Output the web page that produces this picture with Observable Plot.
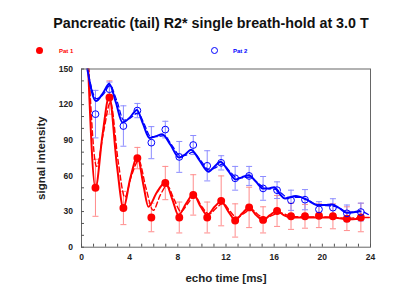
<!DOCTYPE html>
<html>
<head>
<meta charset="utf-8">
<script src="https://cdn.jsdelivr.net/npm/d3@7"></script>
<script src="https://cdn.jsdelivr.net/npm/@observablehq/plot@0.6"></script>
<style>
  html, body { margin: 0; padding: 0; background: #fff; }
  #wrap { width: 400px; height: 308px; position: relative; font-family: "Liberation Sans", Arial, sans-serif; }
  #title { position: absolute; left: 11px; width: 400px; top: 16px; text-align: center; font-weight: bold; font-size: 14.3px; line-height: 14px; color: #111; white-space: nowrap; }
  .lg-dot { position: absolute; box-sizing: border-box; width: 7px; height: 7px; border-radius: 50%; }
  .lg-txt { position: absolute; font-weight: bold; font-size: 6px; line-height: 6px; white-space: nowrap; }
  #chart { position: absolute; left: 0; top: 60px; }
</style>
</head>
<body>
<div id="wrap">
  <div id="title">Pancreatic (tail) R2* single breath-hold at 3.0 T</div>
  <span class="lg-dot" style="left:35.5px;top:47.2px;background:#ff0000"></span>
  <span class="lg-txt" style="left:59px;top:47.7px;color:#ff0000">Pat 1</span>
  <span class="lg-dot" style="left:210.5px;top:47.2px;border:1.2px solid #0000ff"></span>
  <span class="lg-txt" style="left:233px;top:47.7px;color:#0000ff">Pat 2</span>
  <div id="chart"></div>
</div>
<script>
// Echo times [ms]
const echoTimes = [1.16, 2.32, 3.48, 4.64, 5.80, 6.96, 8.12, 9.28, 10.44, 11.60,
                   12.76, 13.92, 15.08, 16.24, 17.40, 18.56, 19.72, 20.88, 22.04, 23.20];
// Pat 1 measured signal and SD
const pat1Values = [50, 126, 33, 75, 25, 54, 25, 44, 25, 39, 22.5, 33.5, 23, 30.5, 26, 26, 26.5, 26, 24, 25];
const pat1Errors = [24, 14, 14, 9, 12, 14, 13, 17, 13, 21, 14, 17, 11, 13, 11, 10, 10, 10.5, 10, 12];
// Pat 2 measured signal and SD
const pat2Values = [112, 133, 102, 115, 88, 99, 76, 86, 68.5, 71, 58, 60, 49.5, 48, 39.5, 40, 31.8, 33.3, 28.5, 29.6];
const pat2Errors = [20, 6, 17, 6, 13.5, 7, 13, 8, 12.7, 6, 10, 8, 10, 7, 8.5, 8.5, 6.5, 7.5, 7, 7.5];

// Fit curves (time, signal)
const fit1SolidT = [0.55, 1.16, 1.75, 2.30, 2.95, 3.48, 4.05, 4.65, 5.15, 5.55, 6.25, 6.96, 7.55, 8.05, 8.70, 9.30, 9.90, 10.45, 11.05, 11.60, 12.20, 12.76, 13.35, 13.92, 14.50, 15.08, 15.65, 16.24, 16.80, 17.40, 18.56, 19.72, 20.88, 22.04, 23.15];
const fit1Solid  = [152, 50, 95, 127, 68, 33, 58, 76, 52, 34, 46, 54.5, 40, 27, 37, 44.5, 34, 27, 34, 38.5, 30, 23, 28.5, 33.5, 27, 23, 27, 30.5, 27, 25, 25, 25, 25, 23.5, 24];
const fit1DashT  = [0.60, 1.25, 1.85, 2.40, 3.05, 3.60, 4.15, 4.75, 5.35, 5.95, 6.55, 7.10, 7.70, 8.25, 8.85, 9.40, 10.00, 10.60, 11.20, 11.75, 12.35, 12.90, 13.50, 14.10, 14.65, 15.20, 15.80, 16.40, 17.50, 18.70, 19.80, 21.00, 22.20, 23.30, 23.90];
const fit1Dash   = [152, 68, 98, 122, 72, 42, 60, 73, 50, 31, 44, 52, 40, 30, 37, 43, 34, 28, 33, 37, 30, 25, 28.5, 32, 27.5, 24.5, 26.5, 29, 26, 25.5, 25.5, 25, 24.5, 25, 25];
const fit2SolidT = [0.45, 1.20, 1.80, 2.30, 2.85, 3.40, 4.00, 4.60, 5.10, 5.65, 6.20, 6.70, 7.40, 8.10, 8.60, 9.10, 9.80, 10.55, 11.05, 11.55, 12.20, 12.80, 13.35, 13.90, 14.50, 15.05, 15.55, 16.00, 16.45, 16.90, 17.80, 18.70, 19.60, 20.20, 20.80, 21.40, 22.00, 22.60, 23.10];
const fit2Solid  = [152, 123, 130, 137.5, 122, 105, 109, 115.5, 104, 92, 93.5, 95, 86, 75.5, 78, 82, 73, 63.5, 68, 72, 64, 57, 59, 60.5, 55, 49.5, 49.5, 50.5, 45, 41, 43, 40, 35.5, 35.5, 36, 33, 29, 29.5, 30.5];
const fit2DashT  = [0.45, 1.25, 1.85, 2.35, 2.95, 3.50, 4.10, 4.70, 5.20, 5.75, 6.30, 6.85, 7.50, 8.20, 8.70, 9.25, 9.90, 10.60, 11.15, 11.70, 12.30, 12.95, 13.45, 14.00, 14.60, 15.20, 15.70, 16.20, 16.65, 17.10, 18.00, 18.85, 19.70, 20.30, 20.90, 21.50, 22.10, 22.70, 23.20, 23.90];
const fit2Dash   = [152, 125, 129, 136, 123, 107, 109, 113, 104, 93, 93, 94, 86, 77, 77.5, 80, 73, 65, 67, 70, 64, 58, 58.5, 59, 54.5, 50, 49, 48.5, 45, 42, 42, 39.5, 35, 35, 34.5, 32.5, 29.5, 29.5, 30, 27];

const yLabelTicks = [0, 30, 60, 90, 120, 150];
const yMinorTicks = d3.range(0, 151, 10);
const xLabelTicks = [0, 4, 8, 12, 16, 20, 24];
const xMinorTicks = d3.range(0, 25, 1);

const pat1 = echoTimes.map((t, i) => ({t, v: pat1Values[i], e: pat1Errors[i]}));
const pat2 = echoTimes.map((t, i) => ({t, v: pat2Values[i], e: pat2Errors[i]}));
const curve = (T, V) => T.map((t, i) => ({t, v: V[i]}));
const f1s = curve(fit1SolidT, fit1Solid), f1d = curve(fit1DashT, fit1Dash);
const f2s = curve(fit2SolidT, fit2Solid), f2d = curve(fit2DashT, fit2Dash);

const cap = { draw(ctx, size) { const w = Math.sqrt(size); ctx.moveTo(-w, 0); ctx.lineTo(w, 0); } };

const RED = "#ff0000", RED_ERR = "#ff8c8c", BLUE = "#0000ff", BLUE_ERR = "#8c8cff";
const font = "'Liberation Sans', Arial, sans-serif";

const errMarks = (data, color) => [
  Plot.ruleX(data, {x: "t", y1: d => d.v - d.e, y2: d => d.v + d.e, stroke: color, strokeWidth: 1}),
  Plot.dot(data, {x: "t", y: d => d.v + d.e, symbol: cap, r: 1.7, stroke: color, fill: "none", strokeWidth: 1}),
  Plot.dot(data, {x: "t", y: d => d.v - d.e, symbol: cap, r: 1.7, stroke: color, fill: "none", strokeWidth: 1})
];

const chart = Plot.plot({
  width: 400,
  height: 248,
  marginLeft: 81,
  marginRight: 30,
  marginTop: 8.5,
  marginBottom: 61.3,
  style: {fontFamily: font, background: "#fff", overflow: "visible"},
  x: {domain: [0, 24]},
  y: {domain: [0, 150]},
  marks: [
    ...errMarks(pat1, RED_ERR),
    ...errMarks(pat2, BLUE_ERR),
    Plot.line(f1d, {x: "t", y: "v", stroke: RED, strokeWidth: 1.4, strokeDasharray: "5,3", curve: "monotone-x", clip: true}),
    Plot.line(f2d, {x: "t", y: "v", stroke: BLUE, strokeWidth: 1.2, strokeDasharray: "5,3", curve: "monotone-x", clip: true}),
    Plot.line(f1s, {x: "t", y: "v", stroke: RED, strokeWidth: 2, curve: "monotone-x", clip: true}),
    Plot.line(f2s, {x: "t", y: "v", stroke: BLUE, strokeWidth: 2, curve: "monotone-x", clip: true}),
    Plot.dot(pat1, {x: "t", y: "v", r: 3.2, fill: RED, stroke: RED}),
    Plot.dot(pat2, {x: "t", y: "v", r: 3.4, fill: "none", stroke: BLUE, strokeWidth: 1}),
    Plot.frame({stroke: "#666", strokeWidth: 1}),
    Plot.axisY(yMinorTicks, {tickSize: -3, text: null, label: null, stroke: "#555"}),
    Plot.axisX(xMinorTicks, {tickSize: -3, text: null, label: null, stroke: "#555"}),
    Plot.axisY(yLabelTicks, {tickSize: 0, tickPadding: 8.5, fontSize: 8.5, fontWeight: "bold", fill: "#222",
      label: "signal intensity", labelAnchor: "center", labelArrow: "none", labelOffset: 45}),
    Plot.axisX(xLabelTicks, {tickSize: 0, tickPadding: 7, fontSize: 8.5, fontWeight: "bold", fill: "#222",
      label: "echo time [ms]", labelAnchor: "center", labelArrow: "none", labelOffset: 35})
  ]
});
// enlarge axis label fonts
chart.querySelectorAll("[aria-label$='axis label'] text, [aria-label$='axis label']").forEach(el => {
  el.setAttribute("font-size", 11.5);
  el.setAttribute("font-weight", "bold");
});
document.getElementById("chart").appendChild(chart);
</script>
</body>
</html>
